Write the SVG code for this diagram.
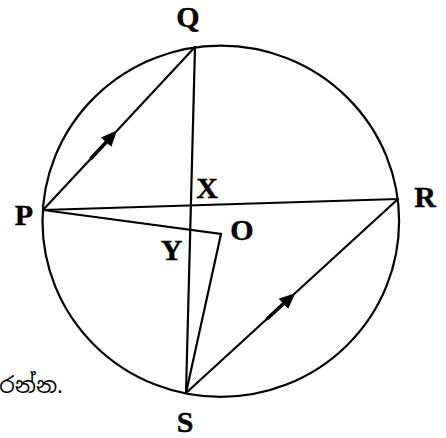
<svg xmlns="http://www.w3.org/2000/svg" width="446" height="438" viewBox="0 0 446 438">
<style>
.ln{stroke:#000;stroke-width:2.2;fill:none;stroke-linecap:round;stroke-linejoin:miter}
.shaft{stroke:#000;stroke-width:3.5;fill:none}
.lbl{font-family:"Liberation Serif","Times New Roman",serif;font-weight:bold;font-size:30px;fill:#000;text-anchor:middle;stroke:#000;stroke-width:0.4}
.si{font-family:"Noto Sans Sinhala","Noto Sans","DejaVu Sans",sans-serif;font-size:22px;fill:#000;text-anchor:end}
</style>
<defs>
<marker id="arr" viewBox="0 0 16 14" refX="0" refY="7" markerWidth="16" markerHeight="14" markerUnits="userSpaceOnUse" orient="auto">
<path d="M0,0 L16,7 L0,14 z" fill="#000"/>
</marker>
</defs>
<rect width="446" height="438" fill="#fff"/>
<g id="circle">
<ellipse cx="220.8" cy="221.3" rx="178.3" ry="175.6" class="ln"/>
</g>
<g id="connectors">
<line id="PQ" x1="43" y1="210" x2="195" y2="47" class="ln"/>
<line id="QS" x1="195" y1="47" x2="186" y2="393" class="ln"/>
<line id="PR" x1="43" y1="210" x2="398" y2="199" class="ln"/>
<polyline id="POS" points="43,210 221,234 186,393" class="ln"/>
<line id="SR" x1="186" y1="393" x2="398" y2="199" class="ln"/>
<line class="shaft" x1="90.5" y1="159" x2="106.1" y2="142.3" marker-end="url(#arr)"/>
<line class="shaft" x1="266.6" y1="319.2" x2="283.4" y2="303.9" marker-end="url(#arr)"/>
</g>
<g id="node-Q"><text class="lbl" x="188" y="27">Q</text></g>
<g id="node-P"><text class="lbl" x="24" y="225">P</text></g>
<g id="node-R"><text class="lbl" x="425" y="207">R</text></g>
<g id="node-S"><text class="lbl" x="185" y="432">S</text></g>
<g id="node-X"><text class="lbl" x="207" y="198">X</text></g>
<g id="node-O"><text class="lbl" x="242" y="240">O</text></g>
<g id="node-Y"><text class="lbl" x="171.5" y="260">Y</text></g>
<g id="fragment"><text class="si" x="63" y="393">රන්න.</text></g>
</svg>
